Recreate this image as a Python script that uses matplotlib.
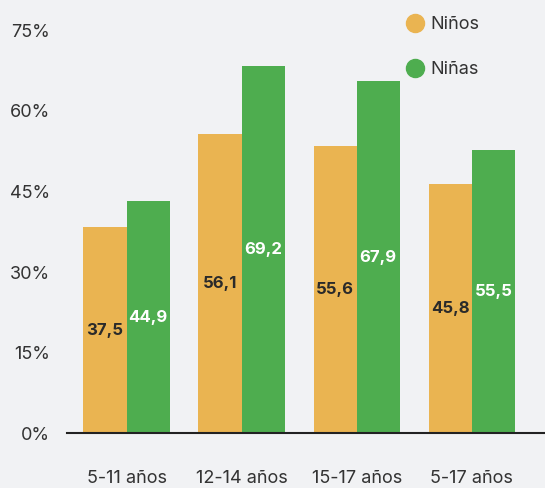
import numpy as np
import matplotlib.pyplot as plt
from matplotlib.lines import Line2D

# Data.
GROUPS = ["5-11 años", "12-14 años", "15-17 años", "5-17 años"]
NINOS = [38.4, 55.7, 53.4, 46.4]
NINAS = [43.2, 68.3, 65.5, 52.7]
NINOS_LABELS = ["37,5", "56,1", "55,6", "45,8"]
NINAS_LABELS = ["44,9", "69,2", "67,9", "55,5"]
Y_TICKS = [0, 15, 30, 45, 60, 75]

ORANGE = "#EAB451"
GREEN = "#4EAD4F"
BG = "#F1F2F4"
TEXT = "#333333"
FONT = "Inter"

plt.rcParams["font.family"] = [FONT, "DejaVu Sans"]

fig = plt.figure(figsize=(5.45, 4.88), dpi=100)
fig.patch.set_facecolor(BG)
ax = fig.add_axes([0.1224, 0.1117, 0.8776, 0.8268])
ax.set_facecolor(BG)

x = np.arange(len(GROUPS))
width = 0.375

bars_o = ax.bar(x - width / 2, NINOS, width, color=ORANGE)
bars_g = ax.bar(x + width / 2, NINAS, width, color=GREEN)

# Value labels in the middle of each bar.
for bar, label in zip(bars_o, NINOS_LABELS):
    ax.text(bar.get_x() + bar.get_width() / 2, bar.get_height() / 2, label,
            ha="center", va="center", fontsize=12, fontweight="bold",
            color="#2a2a2a")
for bar, label in zip(bars_g, NINAS_LABELS):
    ax.text(bar.get_x() + bar.get_width() / 2, bar.get_height() / 2, label,
            ha="center", va="center", fontsize=12, fontweight="bold",
            color="white")

ax.set_xlim(-0.52, 3.636)
ax.set_ylim(0, 75)
ax.set_yticks(Y_TICKS)
ax.set_yticklabels([f"{t}%" for t in Y_TICKS])
ax.set_xticks(x)
ax.set_xticklabels(GROUPS)

for side in ["top", "right", "left"]:
    ax.spines[side].set_visible(False)
ax.spines["bottom"].set_color("#222222")
ax.spines["bottom"].set_linewidth(1.5)

ax.tick_params(axis="y", length=0, pad=12, labelsize=13, labelcolor=TEXT)
ax.tick_params(axis="x", length=0, pad=26, labelsize=13, labelcolor=TEXT)

# Legend with round markers.
handles = [
    Line2D([], [], marker="o", linestyle="", markersize=13,
           markerfacecolor=ORANGE, markeredgecolor=ORANGE, label="Niños"),
    Line2D([], [], marker="o", linestyle="", markersize=13,
           markerfacecolor=GREEN, markeredgecolor=GREEN, label="Niñas"),
]
fig.legend(handles=handles, loc="upper left", bbox_to_anchor=(0.716, 1.0),
           frameon=False, fontsize=13, labelcolor=TEXT, handletextpad=0.3,
           labelspacing=1.55, handlelength=1.0)

fig.savefig("out.png", dpi=100, facecolor=BG)
